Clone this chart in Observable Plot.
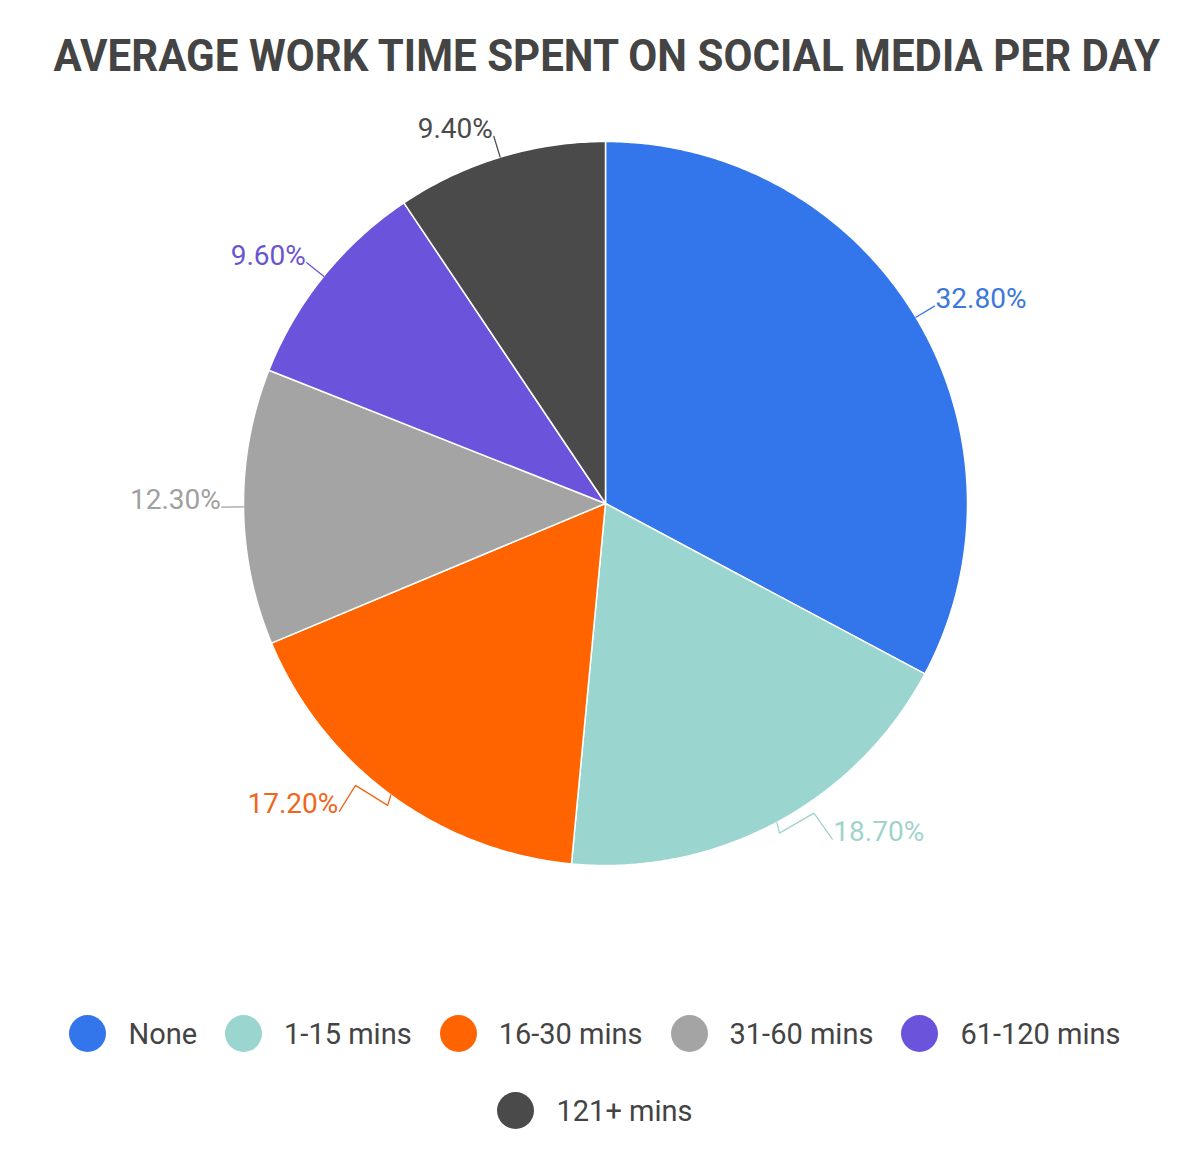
<!DOCTYPE html>
<html>
<head>
<meta charset="utf-8">
<script src="https://cdn.jsdelivr.net/npm/d3@7"></script>
<script src="https://cdn.jsdelivr.net/npm/@observablehq/plot@0.6"></script>
<style>
  html, body { margin: 0; padding: 0; background: #fff; }
  body { width: 1200px; height: 1173px; font-family: Roboto, "Noto Sans", sans-serif; }
  #title { position: absolute; top: 29px; left: 7px; width: 1200px; text-align: center; }
  #title span { display: inline-block; font: 700 45px Roboto, sans-serif; color: #444; transform: scaleX(0.935); transform-origin: center; white-space: nowrap; }
  #chart { position: absolute; top: 73px; left: 0; }
  #legend { position: absolute; top: 1015px; left: 20px; width: 1150px; display: flex; flex-wrap: wrap;
            justify-content: center; row-gap: 40px; column-gap: 0; }
  .item { display: flex; align-items: center; margin: 0 14px; font: 400 29px Roboto, sans-serif; color: #444; }
  .dot { width: 37px; height: 37px; border-radius: 50%; margin-right: 22px; }
</style>
</head>
<body>
<div id="title"><span>AVERAGE WORK TIME SPENT ON SOCIAL MEDIA PER DAY</span></div>
<div id="chart"></div>
<div id="legend"></div>
<script>
const categories = ["None", "1-15 mins", "16-30 mins", "31-60 mins", "61-120 mins", "121+ mins"];
const values = [32.8, 18.7, 17.2, 12.3, 9.6, 9.4];
const colors = ["#3375ea", "#9ad5cf", "#ff6400", "#a4a4a4", "#6c53dc", "#4a4a4a"];
const labelColors = ["#3a78dd", "#9fd3cc", "#f0661a", "#a0a0a0", "#6a55d0", "#4a4a4a"];

const R = 362;
const arcs = d3.pie().sort(null).value(d => d)(values);

const slicePts = [];
arcs.forEach((a, i) => {
  const n = Math.max(4, Math.ceil((a.endAngle - a.startAngle) / 0.01));
  slicePts.push({cat: categories[i], x: 0, y: 0});
  for (let k = 0; k <= n; k++) {
    const t = a.startAngle + (a.endAngle - a.startAngle) * k / n;
    slicePts.push({cat: categories[i], x: R * Math.sin(t), y: -R * Math.cos(t)});
  }
});

// label anchors and leader polylines derived from the slice mid-angles
const labels = [];
const leaders = [];
arcs.forEach((a, i) => {
  const m = (a.startAngle + a.endAngle) / 2;
  const s = Math.sin(m), c = Math.cos(m);
  const side = s >= 0 ? 1 : -1;
  const x0 = R * s, y0 = -R * c;
  let x2 = R * 1.06 * s, y2 = -R * 1.06 * c;
  if (-c > 0.5) {                                // lower labels: pushed sideways with a bracket leader
    const push = 60 * (-c);
    const x1 = R * 1.015 * s, y1 = -R * 1.015 * c;
    x2 = x1 + side * push; y2 = y1 + 12;
    const xp = (x1 + x2) / 2 + side * 8, yp = y1 - 14;
    [[x0, y0], [x1, y1 + 6], [xp, yp], [x2, y2]].forEach(([x, y]) => leaders.push({cat: categories[i], x, y, color: labelColors[i]}));
  } else {
    [[x0, y0], [x2, y2]].forEach(([x, y]) => leaders.push({cat: categories[i], x, y, color: labelColors[i]}));
  }
  labels.push({cat: categories[i], text: values[i].toFixed(2) + "%", x: x2, y: y2, right: s >= 0, color: labelColors[i]});
});

const W = 1200, H = 860;
const plot = Plot.plot({
  width: W, height: H,
  margin: 0,
  x: {domain: [-595, 595], range: [10, 1200], axis: null},
  y: {domain: [-430, 430], range: [0, H], axis: null},
  color: {domain: categories, range: colors},
  marks: [
    Plot.line(slicePts, {x: "x", y: "y", z: "cat", fill: "cat", stroke: "white", strokeWidth: 1.5, curve: "linear-closed"}),
    Plot.line(leaders, {x: "x", y: "y", z: "cat", stroke: d => d.color, strokeWidth: 1.3}),
    Plot.text(labels.filter(d => d.right), {x: "x", y: "y", text: "text", fill: d => d.color, textAnchor: "start", lineAnchor: "bottom", dx: 1, dy: 2, fontSize: 28, fontFamily: "Roboto"}),
    Plot.text(labels.filter(d => !d.right), {x: "x", y: "y", text: "text", fill: d => d.color, textAnchor: "end", lineAnchor: "bottom", dx: -1, dy: 2, fontSize: 28, fontFamily: "Roboto"})
  ]
});
document.getElementById("chart").appendChild(plot);

const legend = document.getElementById("legend");
categories.forEach((c, i) => {
  const it = document.createElement("div");
  it.className = "item";
  it.innerHTML = `<span class="dot" style="background:${colors[i]}"></span><span>${c}</span>`;
  legend.appendChild(it);
});
</script>
</body>
</html>
